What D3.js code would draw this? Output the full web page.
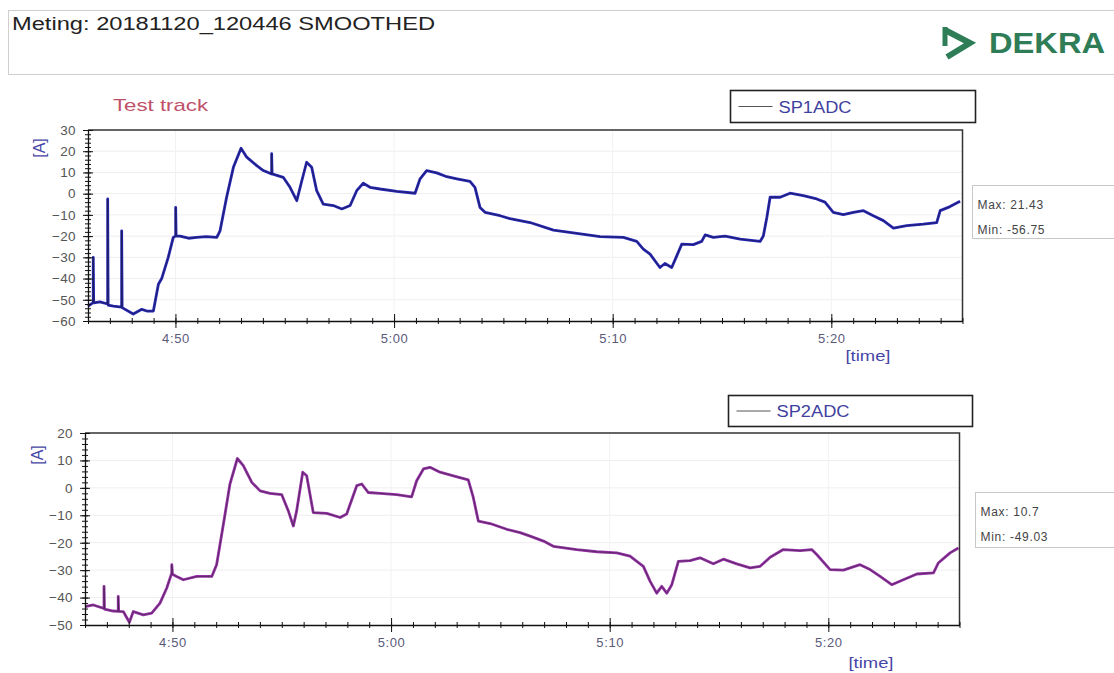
<!DOCTYPE html>
<html><head><meta charset="utf-8">
<script src="https://cdn.jsdelivr.net/npm/d3@7"></script>
<style>
body{margin:0;background:#fff;}
svg{display:block;font-family:"Liberation Sans",Arial,sans-serif;}
</style>
</head><body>
<svg id="c" width="1114" height="673"></svg>
<script>
// ---- DATA (time in minutes since midnight, current in A) ----
const titleText = "Meting:  20181120_120446 SMOOTHED";
const subtitleText = "Test track";
const seriesNames = ["SP1ADC", "SP2ADC"];
const statsMax = ["21.43", "10.7"];
const statsMin = ["-56.75", "-49.03"];
const timeDomain = [286, 326];
const timeMajorTicks = [290, 300, 310, 320];
const y1Ticks = [-60, -50, -40, -30, -20, -10, 0, 10, 20, 30];
const y2Ticks = [-50, -40, -30, -20, -10, 0, 10, 20];

const sp1Time = [286.00,286.24,286.24,286.26,286.55,286.90,286.90,286.92,287.16,287.54,287.54,287.56,288.07,288.46,288.69,288.99,289.22,289.37,289.67,289.90,290.01,290.01,290.03,290.21,290.60,290.97,291.40,291.89,292.04,292.34,292.65,293.00,293.26,293.72,294.02,294.40,294.40,294.42,294.93,295.24,295.55,295.78,296.00,296.23,296.46,296.76,297.22,297.61,297.99,298.29,298.59,298.90,299.36,300.12,300.96,301.19,301.49,301.95,302.41,302.87,303.47,303.70,303.93,304.16,304.85,305.30,306.22,307.29,308.36,309.42,310.49,311.10,311.40,311.71,312.16,312.39,312.70,312.93,313.16,313.69,314.07,314.23,314.60,315.14,315.83,316.74,316.89,317.05,317.20,317.66,318.11,318.72,319.33,319.71,320.09,320.55,321.01,321.47,321.92,322.38,322.84,323.45,324.21,324.82,324.98,325.43,325.89];
const sp1Value = [-53,-51.3,-30,-51.5,-51,-52,-2.5,-52.5,-53,-53.5,-17.5,-53.7,-56.7,-54.5,-55.3,-55.3,-42.7,-40,-30,-20.6,-20,-6.5,-20,-20,-21,-20.6,-20.2,-20.6,-17.5,-1.7,12.4,21.4,17.2,13.2,10.9,9.3,18.8,9.3,7.7,3,-3.3,6.1,14.8,12.5,1.4,-4.9,-5.6,-7.2,-5.6,1.4,4.9,3,2.2,1.1,0.2,7,10.9,9.8,8,7,5.8,3,-6.5,-8.8,-10.4,-11.8,-13.6,-17.2,-18.7,-20.2,-20.6,-22.5,-26.1,-28.5,-34.8,-32.9,-34.8,-29.3,-23.8,-24,-22.5,-19.4,-20.6,-20,-21.4,-22.5,-20,-11.2,-1.7,-1.7,0.2,-0.9,-2.5,-4,-8.8,-9.9,-8.8,-8,-10.4,-12.7,-16.2,-15.1,-14.4,-13.6,-8,-6.1,-3.6];

const sp2Time = [286.00,286.38,286.87,286.87,286.89,287.29,287.52,287.52,287.54,287.75,288.03,288.21,288.67,289.05,289.43,289.74,289.97,289.97,290.00,290.19,290.50,291.11,291.80,292.02,292.33,292.63,292.97,293.24,293.63,294.01,294.46,295.00,295.30,295.53,295.68,295.96,296.14,296.44,297.06,297.67,297.97,298.43,298.66,298.96,299.50,300.26,300.94,301.17,301.48,301.78,302.24,302.85,303.53,303.76,303.99,304.53,305.29,305.90,306.36,306.97,307.42,308.49,309.41,310.32,310.93,311.24,311.54,311.85,312.15,312.38,312.61,312.84,313.14,313.68,314.13,314.74,315.20,315.81,316.42,316.88,317.34,317.94,318.71,319.24,319.47,320.08,320.69,321.45,321.91,322.37,322.90,323.43,324.05,324.81,325.03,325.57,325.95];
const sp2Value = [-43.3,-42.7,-44,-35.9,-44.2,-44.9,-45,-39.6,-45,-45.1,-49,-45.1,-46.3,-45.7,-42,-36.5,-31,-28,-31.5,-32.3,-33.5,-32.3,-32.3,-28,-13.3,1.4,10.7,8.1,2,-1.1,-2,-2.5,-8.4,-13.9,-8.4,5.7,4.4,-9,-9.3,-10.8,-9.5,0.8,1.4,-1.7,-2,-2.5,-3.3,2.6,6.9,7.5,5.7,4.4,2.9,-3.5,-12.1,-13,-15.1,-16.3,-17.6,-19.4,-21.3,-22.5,-23.3,-23.7,-24.9,-26.8,-28.6,-34.1,-38.4,-35.9,-38.4,-35.3,-26.8,-26.5,-25.5,-27.7,-26,-27.7,-29.2,-28.6,-25.3,-22.5,-22.9,-22.5,-24.3,-29.8,-30,-28,-29.8,-32.3,-35.3,-33.5,-31.4,-31,-27.4,-23.7,-21.9];

// ---- DRAWING ----
const svg = d3.select("#c");
const fmtTime = m => `${Math.floor(m/60)}:${String(Math.round(m%60)).padStart(2,"0")}`;
const FONT = "Liberation Sans, Arial, sans-serif";

// header
svg.append("rect").attr("x",8.5).attr("y",10.5).attr("width",1120).attr("height",64)
  .attr("fill","#fff").attr("stroke","#cfcfcf");
svg.append("text").attr("x",12).attr("y",30).attr("font-size",18).attr("fill","#222")
  .attr("textLength",423).attr("lengthAdjust","spacingAndGlyphs").text(titleText);
// DEKRA logo
const logoG = svg.append("g");
logoG.append("path").attr("d","M945,30 L970,43 L947,57").attr("fill","none")
  .attr("stroke","#2f7d57").attr("stroke-width",6).attr("stroke-linejoin","miter");
logoG.append("path").attr("d","M945,27 L945,46").attr("stroke","#2f7d57").attr("stroke-width",5);
logoG.append("text").attr("x",989).attr("y",53).attr("font-size",30).attr("font-weight","bold")
  .attr("fill","#2f7d57").attr("textLength",116).attr("lengthAdjust","spacingAndGlyphs").text("DEKRA");

svg.append("text").attr("x",113).attr("y",111).attr("font-size",17).attr("fill","#c0506a")
  .attr("textLength",95).attr("lengthAdjust","spacingAndGlyphs").text(subtitleText);

const panels = [
  {name:seriesNames[0], t:sp1Time, v:sp1Value, yTicks:y1Ticks, color:"#2626b4",
   x0:88, x1:962.5, y0:130, y1:321,
   legend:{x:730.5,y:90.5,w:245,h:32}, stats:{x:972.5,y:185.5,w:160,h:53,max:statsMax[0],min:statsMin[0]},
   aLabel:{x:45,y:148}, timeLabel:{x:868,y:361}},
  {name:seriesNames[1], t:sp2Time, v:sp2Value, yTicks:y2Ticks, color:"#9533a6",
   x0:85, x1:959.5, y0:433, y1:625,
   legend:{x:728.5,y:395.5,w:244,h:31}, stats:{x:975.5,y:492.5,w:160,h:55,max:statsMax[1],min:statsMin[1]},
   aLabel:{x:43,y:455}, timeLabel:{x:871,y:668}}
];

panels.forEach(p => {
  const x = d3.scaleLinear().domain(timeDomain).range([p.x0, p.x1]);
  const yd = d3.extent(p.yTicks);
  const y = d3.scaleLinear().domain(yd).range([p.y1, p.y0]);
  const g = svg.append("g");

  // faint grid
  g.append("g").selectAll("line").data(p.yTicks.slice(1,-1)).join("line")
    .attr("x1",p.x0).attr("x2",p.x1).attr("y1",d=>y(d)).attr("y2",d=>y(d))
    .attr("stroke","#eeeeee");
  g.append("g").selectAll("line").data(timeMajorTicks).join("line")
    .attr("x1",d=>x(d)).attr("x2",d=>x(d)).attr("y1",p.y0).attr("y2",p.y1)
    .attr("stroke","#f2f2f2");

  // frame top/right
  g.append("path").attr("d",`M${p.x0},${p.y0}H${p.x1}V${p.y1}`).attr("fill","none")
    .attr("stroke","#333").attr("stroke-width",1.5);

  // data line
  const pts = p.t.map((t,i)=>[t,p.v[i]]);
  const line = d3.line().x(d=>x(d[0])).y(d=>y(d[1]));
  g.append("path").datum(pts).attr("d",line).attr("fill","none")
    .attr("stroke",p.color).attr("stroke-width",2.8).attr("stroke-linejoin","round");
  g.append("path").datum(pts).attr("d",line).attr("fill","none")
    .attr("stroke","#1a1a1a").attr("stroke-width",0.8).attr("stroke-opacity",0.55);

  // y axis (minor every 2)
  const yMinor = d3.range(yd[0], yd[1]+0.01, 2);
  const yAxMinor = g.append("g").attr("transform",`translate(${p.x0},0)`)
    .call(d3.axisLeft(y).tickValues(yMinor).tickSize(3).tickFormat(""));
  yAxMinor.selectAll(".tick line").attr("x1",3).attr("stroke","#111");
  yAxMinor.select(".domain").remove();
  const yAx = g.append("g").attr("transform",`translate(${p.x0},0)`)
    .call(d3.axisLeft(y).tickValues(p.yTicks).tickSize(5).tickPadding(7).tickSizeOuter(0));
  yAx.selectAll(".tick line").attr("x1",5).attr("stroke","#111");
  yAx.select(".domain").attr("stroke","#111").attr("stroke-width",1.3);
  yAx.selectAll("text").attr("font-size",13.5).attr("fill","#555").attr("font-family",FONT)
    .attr("letter-spacing",0.4);

  // x axis (minor every minute)
  const xMinor = d3.range(timeDomain[0], timeDomain[1]+0.01, 1);
  const xAxMinor = g.append("g").attr("transform",`translate(0,${p.y1})`)
    .call(d3.axisBottom(x).tickValues(xMinor).tickSize(3).tickFormat(""));
  xAxMinor.selectAll(".tick line").attr("y1",-3).attr("stroke","#111");
  xAxMinor.select(".domain").remove();
  const xAx = g.append("g").attr("transform",`translate(0,${p.y1})`)
    .call(d3.axisBottom(x).tickValues(timeMajorTicks).tickSize(7).tickPadding(6).tickSizeOuter(0).tickFormat(fmtTime));
  xAx.selectAll(".tick line").attr("y1",-7).attr("stroke","#111");
  xAx.select(".domain").attr("stroke","#111").attr("stroke-width",1.3);
  xAx.selectAll("text").attr("font-size",13).attr("fill","#5a5a7a").attr("font-family",FONT)
    .attr("letter-spacing",0.6);

  // axis titles
  g.append("text").attr("transform",`translate(${p.aLabel.x},${p.aLabel.y}) rotate(-90)`)
    .attr("text-anchor","middle").attr("font-size",16).attr("fill","#4646a6").text("[A]");
  g.append("text").attr("x",p.timeLabel.x).attr("y",p.timeLabel.y).attr("text-anchor","middle")
    .attr("font-size",15).attr("fill","#4646a6").attr("textLength",45).attr("lengthAdjust","spacingAndGlyphs").text("[time]");

  // legend
  const L = p.legend;
  g.append("rect").attr("x",L.x).attr("y",L.y).attr("width",L.w).attr("height",L.h)
    .attr("fill","#fff").attr("stroke","#222").attr("stroke-width",1.6);
  g.append("line").attr("x1",L.x+8).attr("x2",L.x+42).attr("y1",L.y+L.h/2).attr("y2",L.y+L.h/2)
    .attr("stroke","#555").attr("stroke-width",1.2);
  g.append("text").attr("x",L.x+48).attr("y",L.y+L.h/2+6).attr("font-size",16)
    .attr("fill","#3f3f9f").attr("textLength",73).attr("lengthAdjust","spacingAndGlyphs").text(p.name);

  // stats box
  const S = p.stats;
  g.append("rect").attr("x",S.x).attr("y",S.y).attr("width",S.w).attr("height",S.h)
    .attr("fill","#fff").attr("stroke","#c8c8c8");
  g.append("text").attr("x",S.x+5).attr("y",S.y+23).attr("font-size",12).attr("fill","#444")
    .attr("letter-spacing",0.7).text(`Max: ${S.max}`);
  g.append("text").attr("x",S.x+5).attr("y",S.y+48).attr("font-size",12).attr("fill","#444")
    .attr("letter-spacing",0.7).text(`Min: ${S.min}`);
});
</script>
</body></html>
